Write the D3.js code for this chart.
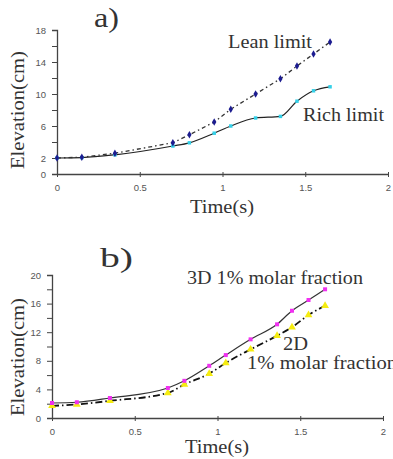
<!DOCTYPE html>
<html>
<head>
<meta charset="utf-8">
<script src="https://cdn.jsdelivr.net/npm/d3@7"></script>
<style>
  body { margin: 0; background: #fff; }
  svg { display: block; }
  .tick text { font-family: "Liberation Sans", Arial, sans-serif; font-size: 9.5px; fill: #555; }
  .domain, .tick line { stroke: #444; }
</style>
</head>
<body>
<svg id="chart"></svg>
<script>
// panel a) data
const timeA = [0, 0.15, 0.35, 0.70, 0.80, 0.95, 1.05, 1.20, 1.35, 1.45, 1.55, 1.65];
const leanLimit = [2.0, 2.1, 2.6, 3.9, 4.9, 6.5, 8.1, 10.0, 11.9, 13.5, 15.0, 16.5];
const richLimit = [2.0, 2.05, 2.4, 3.5, 3.9, 5.1, 6.0, 7.0, 7.2, 9.1, 10.4, 10.9];

// panel b) data
const timeB = [0, 0.15, 0.35, 0.70, 0.80, 0.95, 1.05, 1.20, 1.36, 1.45, 1.55, 1.65];
const frac3D = [2.1, 2.2, 2.8, 4.2, 5.2, 7.3, 8.8, 11.0, 13.1, 15.0, 16.5, 18.0];
const frac2D = [1.7, 1.9, 2.4, 3.5, 4.7, 6.2, 7.7, 9.6, 11.5, 12.7, 14.4, 15.7];

const xTicks = [0, 0.5, 1, 1.5, 2];
const yTicksA = [0, 2, 6, 10, 14, 18];
const yMinorA = [4, 8, 12, 16];
const yTicksB = [0, 4, 8, 12, 16, 20];
const yMinorB = [2, 6, 10, 14, 18];

const W = 393, H = 459;
const serif = "'Liberation Serif', 'Times New Roman', Times, serif";
const svg = d3.select("#chart").attr("width", W).attr("height", H);

function label(g, t, x, y, size, len) {
  const el = g.append("text")
    .attr("x", x).attr("y", y)
    .style("font-family", serif)
    .style("font-weight", "normal")
    .style("font-size", size + "px")
    .style("fill", "#333")
    .text(t);
  if (len) el.attr("textLength", len).attr("lengthAdjust", "spacingAndGlyphs");
  return el;
}

function drawPanel(cfg) {
  const x = d3.scaleLinear().domain([0, 2]).range(cfg.xr);
  const y = d3.scaleLinear().domain([0, cfg.ymax]).range(cfg.yr);
  const g = svg.append("g");

  // minor y ticks
  g.append("g")
    .attr("transform", `translate(${cfg.xr[0]},0)`)
    .call(d3.axisLeft(y).tickValues(cfg.minor).tickSize(5).tickFormat(""))
    .call(a => a.select(".domain").remove());

  g.append("g")
    .attr("transform", `translate(${cfg.xr[0]},0)`)
    .call(d3.axisLeft(y).tickValues(cfg.yticks).tickSize(5).tickPadding(6).tickFormat(d3.format("d")))
    .call(a => a.select(".domain").attr("stroke-width", 1.3));

  const xa = g.append("g")
    .attr("transform", `translate(0,${cfg.yr[0]})`)
    .call(d3.axisBottom(x).tickValues(xTicks).tickSizeInner(3).tickSizeOuter(0).tickPadding(7)
      .tickFormat(d => d));
  xa.select(".domain").attr("stroke-width", 1.3);
  xa.selectAll(".tick line").attr("y1", -2);

  // series
  cfg.series.forEach(s => {
    const pts = cfg.times.map((t, i) => [t, s.values[i]]);
    g.append("path")
      .datum(pts)
      .attr("fill", "none")
      .attr("stroke", s.stroke)
      .attr("stroke-width", s.width)
      .attr("stroke-dasharray", s.dash)
      .attr("d", d3.line().x(d => x(d[0])).y(d => y(d[1])).curve(s.curve));
  });
  cfg.series.forEach(s => {
    const pts = cfg.times.map((t, i) => [t, s.values[i]]);
    g.selectAll(null)
      .data(pts)
      .enter()
      .append("path")
      .attr("transform", d => `translate(${x(d[0])},${y(d[1])})`)
      .attr("d", d3.symbol().type(s.symbol).size(s.size))
      .attr("fill", s.color);
  });

  // titles and axis labels
  label(g, cfg.title.t, cfg.title.x, cfg.title.y, 27, cfg.title.len);
  label(g, "Elevation(cm)", 0, 0, 18, 118)
    .attr("text-anchor", "middle")
    .attr("transform", `translate(${cfg.ylab.x},${cfg.ylab.y}) rotate(-90)`);
  label(g, "Time(s)", cfg.xlab.x, cfg.xlab.y, 18, 64).attr("text-anchor", "middle");
  cfg.notes.forEach(n => label(g, n.t, n.x, n.y, 18, n.len));
}

drawPanel({
  xr: [57, 388], yr: [174, 30], ymax: 18,
  yticks: yTicksA, minor: yMinorA, times: timeA,
  series: [
    { values: richLimit, stroke: "#222", width: 1.2, dash: null, curve: d3.curveMonotoneX,
      symbol: d3.symbolSquare, size: 12, color: "#33d0e8" },
    { values: leanLimit, stroke: "#333", width: 1.3, dash: "4,3,1.5,3", curve: d3.curveLinear,
      symbol: d3.symbolDiamond, size: 16, color: "#1c1c90" }
  ],
  title: { t: "a)", x: 94, y: 27, len: 25 },
  ylab: { x: 24, y: 110 },
  xlab: { x: 222, y: 213 },
  notes: [
    { t: "Lean limit", x: 228, y: 48, len: 84 },
    { t: "Rich limit", x: 303, y: 121, len: 81 }
  ]
});

drawPanel({
  xr: [52, 383], yr: [418, 275], ymax: 20,
  yticks: yTicksB, minor: yMinorB, times: timeB,
  series: [
    { values: frac2D, stroke: "#111", width: 1.8, dash: "7,3,1.5,3", curve: d3.curveMonotoneX,
      symbol: d3.symbolTriangle, size: 26, color: "#f5ec10" },
    { values: frac3D, stroke: "#333", width: 1.2, dash: null, curve: d3.curveMonotoneX,
      symbol: d3.symbolSquare, size: 16, color: "#f030f0" }
  ],
  title: { t: "b)", x: 100, y: 267, len: 33 },
  ylab: { x: 24, y: 357 },
  xlab: { x: 217, y: 453 },
  notes: [
    { t: "3D 1% molar fraction", x: 187, y: 284, len: 176 },
    { t: "2D", x: 283, y: 350, len: 25 },
    { t: "1% molar fraction", x: 247, y: 369, len: 150 }
  ]
});
</script>
</body>
</html>
